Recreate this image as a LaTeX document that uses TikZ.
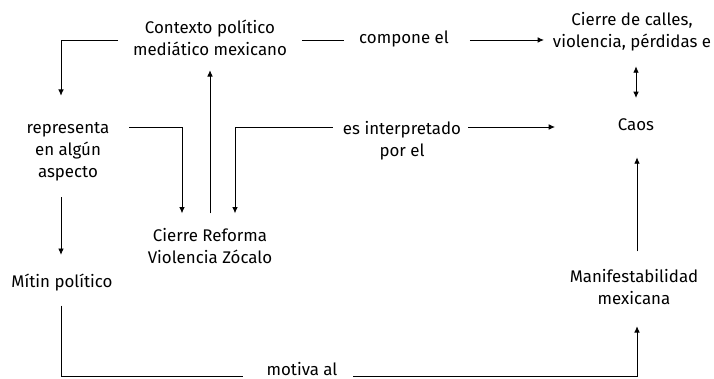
\documentclass[tikz,border=0pt]{standalone}
\usepackage{fontspec}
\setmainfont{Fira Sans}
\usetikzlibrary{arrows.meta}

\begin{document}
\begin{tikzpicture}[
	x=0.025cm,
	y=-0.025cm,
	>={Latex[length=4.5pt,width=4pt]},
	line width=0.6pt,
	txt/.style={
		align=center,
		inner sep=0pt,
		outer sep=0pt,
		font=\fontsize{12}{15.6}\selectfont
	},
]
\useasboundingbox (0,0) rectangle (714,379);

% Nodes
\node[txt] (ctx) at (210,38) {Contexto político\\mediático mexicano};
\node[txt,anchor=mid] (compone) at (404,40) {compone el};
\node[txt] (calles) at (632,32) {Cierre de calles,\\violencia, pérdidas e};
\node[txt] (caos) at (636,125) {Caos};
\node[txt] (repr) at (68,152) {representa\\en algún\\aspecto};
\node[txt] (interp) at (402,141) {es interpretado\\por el};
\node[txt] (cierre) at (210,246) {Cierre Reforma\\Violencia Zócalo};
\node[txt] (mitin) at (62,283) {Mítin político};
\node[txt] (manif) at (634,287) {Manifestabilidad\\mexicana};
\node[txt,anchor=base] (motiva) at (302,375) {motiva al};

% Corners
\coordinate (lcol) at (61,40);
\coordinate (rj) at (182,127);
\coordinate (ij) at (235,127);
\coordinate (caosin) at (555,127);
\coordinate (bl) at (61,376);
\coordinate (br) at (637,376);

% Top row
\draw[->,shorten <=0.375cm,shorten >=0.675cm] (ctx.west |- lcol) -- (lcol) -- (lcol |- repr.north);
\draw[shorten <=0.375cm,shorten >=0.375cm] (ctx.east |- compone.mid) -- (compone.mid west);
\draw[->,shorten <=0.525cm,shorten >=0.225cm] (compone.mid east) -- (compone.mid east -| calles.west);
\draw[<->,shorten <=0.375cm,shorten >=0.525cm] (caos |- calles.south) -- (caos.north);

% Middle
\draw[->,shorten <=0.375cm,shorten >=0.36cm] (cierre.north) -- (ctx.south);
\draw[->,shorten <=0.5cm,shorten >=0.375cm] (repr.east |- rj) -- (rj) -- (rj |- cierre.north);
\draw[->,shorten <=0.25cm,shorten >=0.375cm] (interp.west |- ij) -- (ij) -- (ij |- cierre.north);
\draw[->,shorten <=0.175cm] (interp.east |- caosin) -- (caosin);

% Bottom
\draw[->,shorten <=0.4cm,shorten >=0.49cm] (lcol |- repr.south) -- (lcol |- mitin.north);
\draw[shorten <=0.35cm,shorten >=0.6cm] (bl |- mitin.south) -- (bl) -- (bl -| motiva.west);
\draw[->,shorten <=0.4cm,shorten >=0.54cm] (br -| motiva.east) -- (br) -- (br |- manif.south);
\draw[->,shorten <=0.45cm,shorten >=0.66cm] (br |- manif.north) -- (br |- caos.south);

\end{tikzpicture}
\end{document}
